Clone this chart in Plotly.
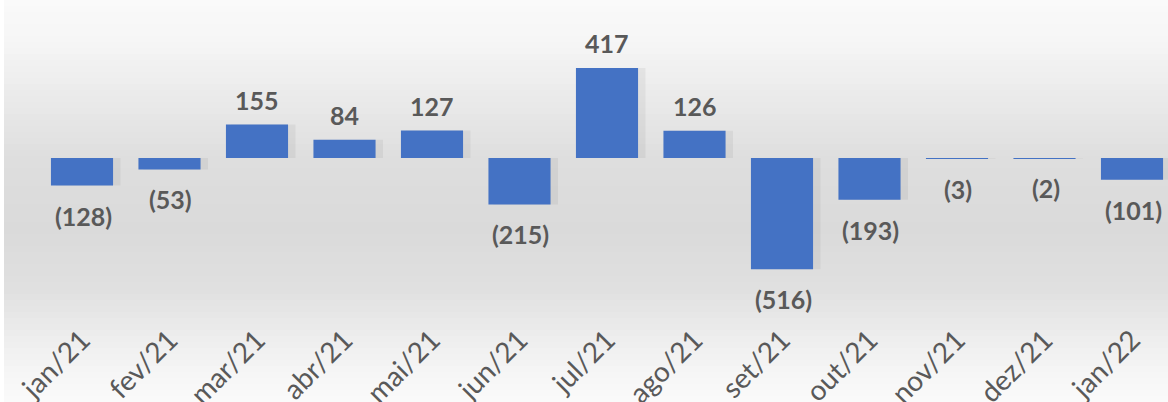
import plotly.graph_objects as go

months = ["jan/21", "fev/21", "mar/21", "abr/21", "mai/21", "jun/21", "jul/21",
          "ago/21", "set/21", "out/21", "nov/21", "dez/21", "jan/22"]
values = [-128, -53, 155, 84, 127, -215, 417, 126, -516, -193, -3, -2, -101]

def fmt(v):
    return f"({abs(v)})" if v < 0 else f"{v}"

W, H = 1168, 402
fig = go.Figure()

# shadow bars
fig.add_trace(go.Bar(x=months, y=values, marker=dict(color="rgba(0,0,0,0.05)", line=dict(width=0)),
                     offset=-0.30, width=0.74, hoverinfo="skip", showlegend=False))
fig.add_trace(go.Bar(x=months, y=values, marker=dict(color="#4472C4", line=dict(width=0)),
                     width=0.71, hoverinfo="skip", showlegend=False))

for m, v in zip(months, values):
    fig.add_annotation(x=m, y=v, text=fmt(v), showarrow=False,
                       yanchor="bottom" if v >= 0 else "top",
                       yshift=8 if v >= 0 else -13,
                       xshift=0 if v >= 0 else 1,
                       font=dict(family="Lato", size=25, color="#595959", weight="bold"))

plot_h = 317
zero_y = 158
stops = [(0, 250), (40, 246), (100, 234), (160, 222), (230, 218), (290, 224), (340, 238), (380, 247), (402, 250)]
def gray_at(py):
    for (y0, g0), (y1, g1) in zip(stops[:-1], stops[1:]):
        if y0 <= py <= y1:
            return g0 + (g1 - g0) * (py - y0) / (y1 - y0)
    return 250
n = 67
for i in range(n):
    p0 = i * H / n
    p1 = (i + 1) * H / n + 1
    g = int(round(gray_at((p0 + p1) / 2)))
    fig.add_shape(type="rect", xref="paper", yref="paper", layer="below",
                  x0=4 / W, x1=1.0, y0=(plot_h - p1) / plot_h, y1=(plot_h - p0) / plot_h,
                  fillcolor=f"rgb({g},{g},{g})", line=dict(width=0))

scale = 87.5
r0 = -82 / scale
r1 = r0 + W / scale
px_per_unit = 0.2158
fig.update_layout(
    width=W, height=H,
    margin=dict(l=0, r=0, t=0, b=H - plot_h, autoexpand=False),
    paper_bgcolor="white", plot_bgcolor="rgba(0,0,0,0)",
    barmode="overlay",
    xaxis=dict(range=[r0, r1], tickangle=-45, showgrid=False, zeroline=False, showline=False,
               automargin=False, ticks="",
               tickfont=dict(family="Lato", size=28, color="#595959")),
    yaxis=dict(range=[-(plot_h - zero_y) / px_per_unit, zero_y / px_per_unit],
               visible=False, showgrid=False, zeroline=False, automargin=False),
    showlegend=False,
)
fig.write_html("out.html", config={"displayModeBar": False},
               post_script="document.body.style.margin='0px';document.body.style.overflow='hidden';")
